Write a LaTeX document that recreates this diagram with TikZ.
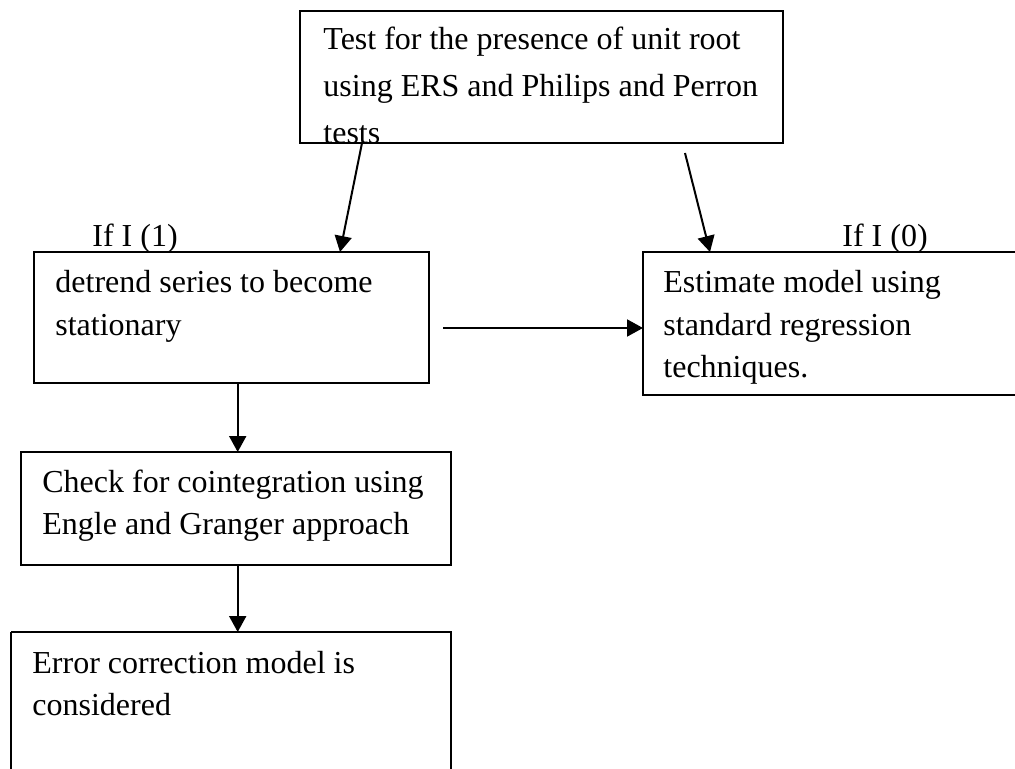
\documentclass[tikz,border=0pt]{standalone}
\usepackage{fontspec}
\setmainfont{Liberation Serif}
\usetikzlibrary{arrows.meta}
\begin{document}
\begin{tikzpicture}[x=0.5pt,y=-0.5pt,
  boxline/.style={line width=1.1pt, draw=black},
  arr/.style={line width=1pt, -{Triangle[length=8pt,width=8.5pt]}},
  txt/.style={anchor=base west, inner sep=0pt, font=\fontsize{16}{21.25}\selectfont},
  toptxt/.style={anchor=base west, inner sep=0pt, font=\fontsize{16}{23.5}\selectfont},
  lbl/.style={anchor=base west, inner sep=0pt, font=\fontsize{16}{19}\selectfont}]
\clip (0,0) rectangle (1015,769);
\fill[white] (0,0) rectangle (1015,769);
% boxes
\draw[boxline] (300,11) rectangle (783,143);
\node[coordinate] (top) at (541.5,77) {};
\draw[boxline] (34,252) rectangle (429,383);
\node[coordinate] (detrend) at (231.5,317.5) {};
\draw[boxline] (643,252) rectangle (1030,395);
\node[coordinate] (estimate) at (836,323.5) {};
\draw[boxline] (21,452) rectangle (451,565);
\node[coordinate] (check) at (236,508.5) {};
\draw[boxline] (11,632) -- (11,790) (11,632) -- (451,632) -- (451,790);
% texts
\begin{scope}
\clip (302,13) rectangle (781,142);
\node[toptxt] (ttop) at (323,50) {\parbox[t]{400pt}{Test for the presence of unit root\\using ERS and Philips and Perron\\tests}};
\end{scope}
\node[txt] (tdetrend) at (55,293) {\parbox[t]{200pt}{detrend series to become\\stationary}};
\node[txt] (testimate) at (663,293) {\parbox[t]{200pt}{Estimate model using\\standard regression\\techniques.}};
\node[txt] (tcheck) at (42,492) {\parbox[t]{210pt}{Check for cointegration using\\Engle and Granger approach}};
\node[txt] (terror) at (32,673) {\parbox[t]{210pt}{Error correction model is\\considered}};
\node[lbl] (if1) at (92,247) {If I (1)};
\node[lbl] (if0) at (842,247) {If I (0)};
% connectors
\coordinate (a1s) at (362,143);
\coordinate (a1e) at (340,252);
\coordinate (a2s) at (685,153);
\coordinate (a2e) at (710,252);
\coordinate (a3s) at (443,328);
\coordinate (a3e) at (643,328);
\coordinate (a4s) at (237.7,383);
\coordinate (a4e) at (237.7,452);
\coordinate (a5s) at (237.7,565);
\coordinate (a5e) at (237.7,632);
\draw[arr] (a1s) -- (a1e);
\draw[arr] (a2s) -- (a2e);
\draw[arr] (a3s) -- (a3e);
\draw[arr] (a4s) -- (a4e);
\draw[arr] (a5s) -- (a5e);
\end{tikzpicture}
\end{document}
